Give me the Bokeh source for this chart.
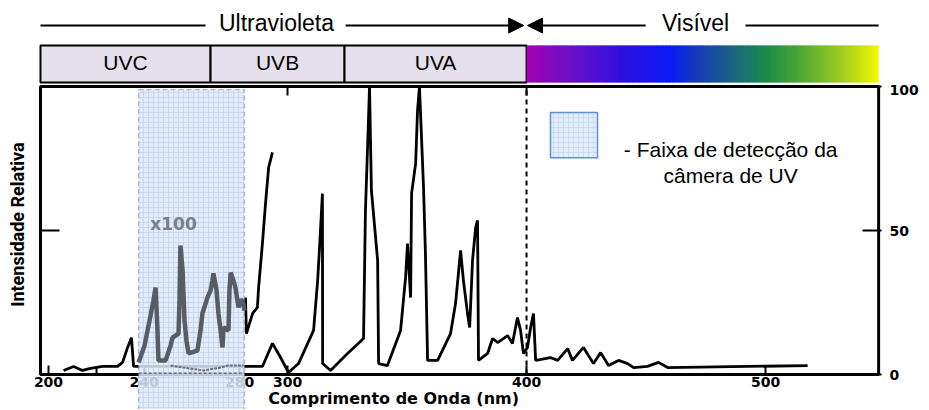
import numpy as np
from bokeh.plotting import figure
from bokeh.models import (Range1d, LinearAxis, FixedTicker, BoxAnnotation,
                          Label, Arrow, NormalHead)
from bokeh.layouts import column
from bokeh.embed import file_html
from bokeh.resources import INLINE
from bokeh.core.properties import value

# ---------------- data ----------------
# main lamp spectrum (black)
wl_main = [206.3, 210.5, 214.2, 217.6, 222.6, 228.9, 231.0, 233.1, 234.7, 235.6,
           282.4, 289.5, 293.7, 297.1, 300.4, 304.6, 310.9, 312.6, 313.4, 314.6,
           314.7, 318.0, 325.1, 331.8, 332.6, 333.9, 334.3, 335.1, 337.7, 338.1,
           341.8, 347.3, 349.4, 350.2, 351.5, 351.9, 353.6, 354.4, 355.2, 356.9,
           357.7, 358.6, 362.8, 368.2, 370.3, 371.5, 372.4, 373.6, 375.3, 376.2,
           377.4, 378.7, 379.5, 379.9, 383.7, 385.8, 387.9, 392.1, 394.1, 396.2,
           397.5, 398.7, 400.4, 401.7, 402.9, 403.8, 410.0, 413.0, 417.2, 419.2,
           423.8, 428.0, 431.0, 434.3, 438.5, 442.3, 444.8, 450.6, 455.2, 459.0,
           517.6]
int_main = [1.4, 2.8, 1.4, 2.1, 2.8, 2.8, 4.2, 9.4, 12.8, 2.8,
            2.8, 2.8, 10.8, 5.9, 0.7, 3.8, 15.3, 32.6, 44.1, 62.8,
            3.8, 1.4, 7.3, 12.5, 56.9, 89.2, 100, 63.9, 39.6, 3.8,
            3.1, 15.3, 33.7, 45.5, 26.7, 62.8, 73.3, 91.7, 100, 64.9,
            42.0, 4.9, 4.9, 14.2, 24.7, 35.1, 43.1, 32.6, 21.2, 16.3,
            39.6, 51.0, 53.5, 4.9, 7.3, 12.5, 11.1, 13.5, 10.8, 19.8,
            15.3, 7.3, 9.4, 16.3, 21.2, 4.9, 5.9, 4.9, 9.0, 4.9,
            9.4, 3.8, 7.6, 3.1, 4.9, 3.8, 2.4, 2.8, 4.2, 2.4,
            3.1]

# x100 magnified trace inside the camera band (grey)
wl_x100 = [237.7, 240.2, 242.7, 243.9, 244.8, 245.6, 246.0, 249.0, 251.1, 251.9,
           254.4, 254.8, 255.2, 256.1, 256.9, 257.7, 258.6, 262.3, 263.6, 264.4,
           266.5, 267.8, 268.6, 269.0, 270.3, 271.1, 272.0, 272.8, 273.2, 275.3,
           275.7, 276.2, 277.4, 278.2, 279.5, 280.3, 281.2, 282.0]
int_x100 = [4.2, 10.1, 20.5, 25.7, 30.2, 15.3, 4.9, 4.9, 10.1, 12.8,
            14.2, 25.7, 44.8, 36.1, 18.8, 11.8, 7.3, 8.3, 15.3, 21.2,
            26.7, 29.2, 32.6, 35.1, 29.2, 21.2, 15.3, 9.4, 16.3, 15.3,
            29.2, 35.4, 32.6, 30.2, 23.3, 25.7, 25.7, 22.2]
# x100 trace continued outside the band (black)
wl_x100_cont = [282.4, 282.8, 285.4, 287.4, 287.9, 289.5, 290.8, 292.1, 293.7]
int_x100_cont = [26.7, 14.2, 21.2, 23.3, 30.2, 45.5, 59.4, 71.9, 77.1]
# second, low trace of the magnified inset
wl_x100_base = [251.1, 256.5, 264.9, 272.0, 274.9, 281.6]
int_x100_base = [3.1, 2.4, 1.4, 2.4, 3.1, 3.1]

camera_range = [237.7, 282.0]          # faixa de deteccao da camera
uv_vis_boundary = 400

band_labels = ["UVC", "UVB", "UVA"]
band_start = [196.65, 267.8, 323.85]
band_end = [267.8, 323.85, 400.0]

plot_x = [196.65, 547.3]               # plotted wavelength window (frame box)
plot_y = [0, 100]

x_ticks = [200, 240, 280, 300, 400, 500]
x_minor_ticks = [220, 260]
top_ticks = [300, 400]
y_ticks = [0, 50, 100]
left_ticks = [50]

legend_lines = ["- Faixa de detecção da", "câmera de UV"]

# visible spectrum colour stops (fraction along bar, colour)
spec_stops = [0.0, 0.128, 0.27, 0.406, 0.497, 0.597, 0.682, 0.78, 0.895, 1.0]
spec_cols = [(160, 0, 176), (106, 16, 200), (48, 16, 224), (10, 26, 245),
             (24, 64, 176), (26, 106, 122), (26, 140, 72), (80, 168, 53),
             (160, 204, 32), (242, 248, 0)]

# ---------------- layout ----------------
PXN = 2.39                      # px per nm
XR0, XR1 = 192.47, 548.5
W = 928
BL, BR = 30, 47
SANS = "Liberation Sans"
BOLDNUM = "DejaVu Sans"

xr = Range1d(XR0, XR1)

TOPH = 84
top = figure(width=W, height=TOPH, x_range=xr, y_range=Range1d(0, TOPH),
             output_backend="svg", toolbar_location=None,
             x_axis_location=None, y_axis_location=None,
             min_border_left=BL, min_border_right=BR, min_border_top=0, min_border_bottom=0)
top.grid.visible = False
top.outline_line_color = None

# UV band boxes
top.quad(left=band_start, right=band_end, bottom=2, top=39,
         fill_color="#e5dfeb", line_color="black", line_width=2)
centers = [(a + b) / 2 for a, b in zip(band_start, band_end)]
top.text(x=centers, y=[22] * 3, text=band_labels, text_align="center",
         text_baseline="middle", text_font=value(SANS), text_font_size="21px",
         text_color="black")

# visible spectrum gradient
n = 150
edges = np.linspace(uv_vis_boundary, plot_x[1], n + 1)
fr = (np.arange(n) + 0.5) / n
cols = []
for f in fr:
    rgb = [int(round(np.interp(f, spec_stops, [c[k] for c in spec_cols]))) for k in range(3)]
    cols.append("#%02x%02x%02x" % tuple(rgb))
rights = np.minimum(edges[1:] + 0.6, plot_x[1])
top.quad(left=edges[:-1], right=rights, bottom=2, top=39,
         fill_color=cols, line_color=None)

# headings
HY = 59
top.segment(x0=[196.65, 491.6], y0=[HY, HY], x1=[265.7, 547.3], y1=[HY, HY],
            line_color="black", line_width=2)
top.add_layout(Arrow(end=NormalHead(size=15, fill_color="black", line_color="black"),
                     x_start=324.3, y_start=HY, x_end=398.8, y_end=HY,
                     line_color="black", line_width=2))
top.add_layout(Arrow(end=NormalHead(size=15, fill_color="black", line_color="black"),
                     x_start=449.8, y_start=HY, x_end=400.4, y_end=HY,
                     line_color="black", line_width=2))
top.text(x=[295.4, 470.7], y=[HY + 3, HY + 3], text=["Ultravioleta", "Visível"],
         text_align="center", text_baseline="middle", text_font=value(SANS),
         text_font_size="23px", text_color="black")

# ---------------- main chart ----------------
MAINH = 325
PXV = 2.88                       # px per intensity unit
YTOP = 100 + 2 / PXV
YBOT = YTOP - MAINH / PXV
p = figure(width=W, height=MAINH, x_range=xr, y_range=Range1d(YBOT, YTOP),
           output_backend="svg", toolbar_location=None,
           min_border_left=BL, min_border_right=BR, min_border_top=0, min_border_bottom=0)
p.grid.visible = False
p.outline_line_color = None

# frame box
p.quad(left=[plot_x[0]], right=[plot_x[1]], bottom=[plot_y[0]], top=[plot_y[1]],
       fill_color=None, line_color="black", line_width=3)

# bottom axis drawn at intensity 0 inside the frame
xa = p.xaxis[0]
xa.fixed_location = 0
xa.ticker = FixedTicker(ticks=x_ticks, minor_ticks=x_minor_ticks)
xa.axis_line_color = None
xa.major_tick_in = 9
xa.major_tick_out = 0
xa.minor_tick_in = 7
xa.minor_tick_out = 0
xa.major_tick_line_width = 2
xa.minor_tick_line_width = 2
xa.major_tick_line_color = "black"
xa.minor_tick_line_color = "black"
xa.major_label_text_font = BOLDNUM
xa.major_label_text_font_style = "bold"
xa.major_label_text_font_size = "14px"
xa.major_label_text_color = "black"
xa.major_label_standoff = 2

# left axis: only the title (tick drawn at the frame edge below)
ya = p.yaxis[0]
ya.ticker = FixedTicker(ticks=left_ticks)
ya.axis_line_color = None
ya.major_tick_in = 0
ya.major_tick_out = 0
ya.minor_tick_in = 0
ya.minor_tick_out = 0
ya.major_label_overrides = {t: "" for t in left_ticks}
ya.major_label_standoff = 0
ya.axis_label = "\u00a0" * 10 + "Intensidade Relativa"
ya.axis_label_text_font = "Roboto"
ya.axis_label_text_font_style = "bold"
ya.axis_label_text_font_size = "18px"
ya.axis_label_text_color = "black"
ya.axis_label_standoff = 3

# left tick mark at the frame edge
p.segment(x0=[plot_x[0]] * len(left_ticks), y0=left_ticks,
          x1=[plot_x[0] + 19 / PXN] * len(left_ticks), y1=left_ticks,
          line_color="black", line_width=2)

ra = LinearAxis(ticker=FixedTicker(ticks=y_ticks))
ra.axis_line_color = None
ra.major_tick_in = 19
ra.major_tick_out = 0
ra.minor_tick_in = 0
ra.minor_tick_out = 0
ra.major_tick_line_width = 2
ra.major_tick_line_color = "black"
ra.major_label_text_font = BOLDNUM
ra.major_label_text_font_style = "bold"
ra.major_label_text_font_size = "14px"
ra.major_label_text_color = "black"
ra.major_label_standoff = 8
p.add_layout(ra, "right")

# spectrum
p.line(wl_main, int_main, line_color="black", line_width=2.8)
p.line(wl_x100_cont, int_x100_cont, line_color="black", line_width=2.8)

# top ticks
p.segment(x0=top_ticks, y0=[100] * len(top_ticks), x1=top_ticks, y1=[96.9] * len(top_ticks),
          line_color="black", line_width=2)

# 400 nm boundary
p.segment(x0=[uv_vis_boundary], y0=[plot_y[0]], x1=[uv_vis_boundary], y1=[plot_y[1]],
          line_color="black", line_dash="5 4", line_width=2)

# camera detection band (runs down past the axis)
p.add_layout(BoxAnnotation(left=camera_range[0], right=camera_range[1], bottom=YBOT - 5, top=99,
                           fill_color="#dfe9f8", fill_alpha=0.85,
                           hatch_pattern="+", hatch_color="#bcd0ee", hatch_scale=5,
                           hatch_weight=0.7, hatch_alpha=1.0,
                           line_color="#3c3450", line_dash="5 3", line_width=1.5))

# magnified inset on top of the band
p.line(wl_x100, int_x100, line_color="#585d65", line_width=4.5, level="overlay")
p.line(wl_x100_base, int_x100_base, line_color="#6c717a", line_width=2,
       line_dash="3 1", level="overlay")
p.segment(x0=[camera_range[0]], y0=[0.4], x1=[camera_range[1]], y1=[0.4],
          line_color="#6c717a", line_width=1.5, line_dash="3 2", level="overlay")
p.text(x=[252.3], y=[52.4], text=["x100"], text_align="center", text_baseline="middle",
       text_font=value("DejaVu Sans"), text_font_style="bold", text_font_size="17px",
       text_color="#7a7e88", level="overlay")

# legend
p.quad(left=[410.0], right=[429.7], bottom=[75.3], top=[91.0],
       fill_color="#e3ecf9", hatch_pattern="+", hatch_color="#c3d5f0", hatch_scale=5,
       hatch_weight=0.7, line_color="#5b8fd8", line_width=1.5)
p.text(x=[485.4, 485.4], y=[78.1, 69.1], text=legend_lines, text_align="center",
       text_baseline="middle", text_font=value(SANS), text_font_size="21px",
       text_color="black")

# x axis title
p.add_layout(Label(x=344.4, y=-8.4, text="Comprimento de Onda (nm)",
                   text_font=BOLDNUM, text_font_style="bold", text_font_size="16px",
                   text_align="center", text_baseline="middle", text_color="black"))

layout = column(top, p)
open("out.html", "w").write(file_html(layout, INLINE))
